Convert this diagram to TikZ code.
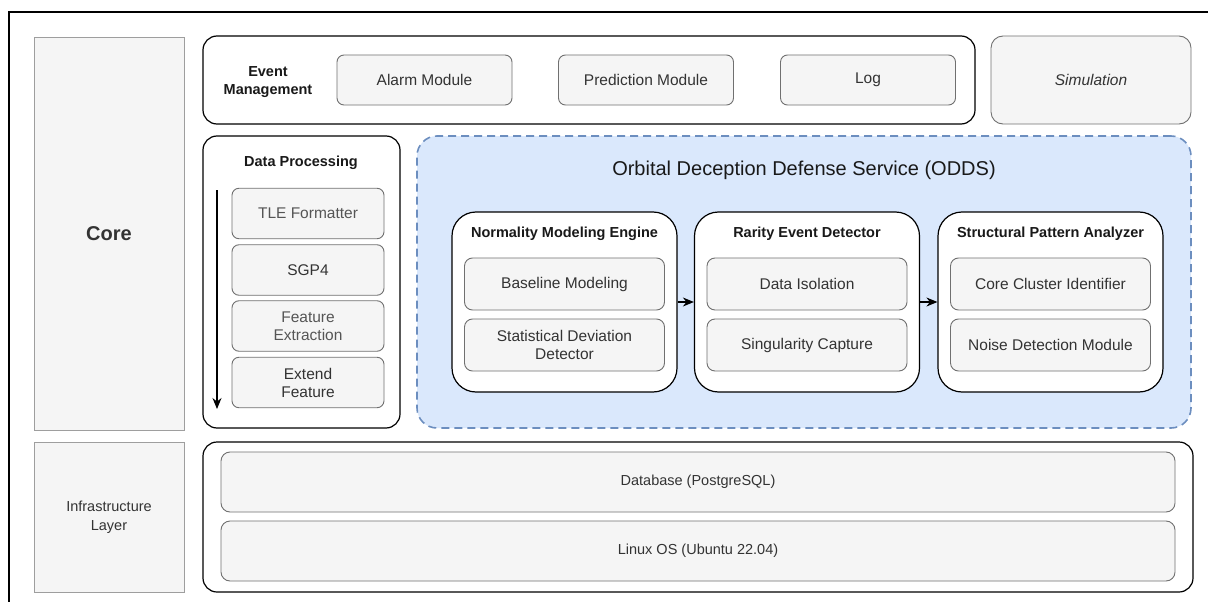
\documentclass[tikz,border=0pt]{standalone}
\usepackage{fontspec}
\setmainfont{Liberation Sans}
\usetikzlibrary{arrows.meta}

\definecolor{boxfill}{HTML}{F5F5F5}
\definecolor{boxline}{HTML}{707070}
\definecolor{layerline}{HTML}{9E9E9E}
\definecolor{textgray}{HTML}{333333}
\definecolor{lightgray}{HTML}{555555}
\definecolor{oddsfill}{HTML}{DAE8FC}
\definecolor{oddsline}{HTML}{6C8EBF}

\newcommand{\pxfont}[2]{\fontsize{#1}{#2}\selectfont}

\begin{document}
\begin{tikzpicture}[x=1pt, y=-1pt, font=\pxfont{15.5}{18},
  flow/.style={-{Stealth[length=11pt, width=9pt]}, line width=1.1pt},
  layerbox/.style={draw=layerline, fill=boxfill, line width=1pt, inner sep=0pt, text=textgray},
  groupbox/.style={draw=black, fill=white, line width=1.2pt, rounded corners=14pt, inner sep=0pt},
  modbox/.style={draw=boxline, fill=boxfill, line width=0.9pt, rounded corners=7pt, inner sep=0pt, align=center, text=textgray},
  headtext/.style={font=\bfseries\pxfont{14.5}{18}, align=center, text=black!90}]

\useasboundingbox (0,0) rectangle (1208,602);

% Outer frame
\draw[line width=1.2pt] (9,602) -- (9,12) -- (1208,12);

% Layers
\node[layerbox, minimum width=150, minimum height=392, font=\bfseries\pxfont{20}{24}] (core) at (109,234) {Core};
\node[layerbox, minimum width=150, minimum height=150, align=center, font=\pxfont{14.5}{19}] (infra) at (109,517) {Infrastructure\\Layer};

% Event management
\node[groupbox, minimum width=772, minimum height=88] (evt) at (589,80) {};
\node[headtext] (evtlbl) at (268,82) {Event\\Management};
\foreach \nm/\cx/\txt in {alarm/424.5/Alarm Module, pred/646/Prediction Module, log/868/Log} {
  \node[modbox, minimum width=175, minimum height=50] (\nm) at (\cx,80) {\txt};
}

% Simulation
\node[modbox, rounded corners=12pt, minimum width=200, minimum height=88] (sim) at (1091,80) {\itshape Simulation};

% Data processing
\node[groupbox, minimum width=197, minimum height=292] (dp) at (301.5,282) {};
\node[headtext] (dplbl) at (301,163) {Data Processing};
\foreach \nm/\cy/\tc/\txt in {tle/213.5/lightgray/TLE Formatter, sgp/270/textgray/SGP4, feat/326/lightgray/Feature\\Extraction, ext/382.5/textgray/Extend\\Feature} {
  \node[modbox, text=\tc, minimum width=152, minimum height=50.5] (\nm) at (308,\cy) {\txt};
}
\coordinate (flowtop) at (217,190);
\coordinate (flowend) at (217,409);
\draw[flow] (flowtop) -- (flowend);

% ODDS
\node[draw=oddsline, fill=oddsfill, dash pattern=on 8pt off 5pt, line width=1.6pt, rounded corners=20pt, minimum width=774, minimum height=292] (odds) at (804,282) {};
\node[font=\pxfont{20}{24}, text=black!90] (oddslbl) at (804,170) {Orbital Deception Defense Service (ODDS)};

\foreach \nm/\cx/\ttl/\subA/\subB in {norm/564.5/Normality Modeling Engine/Baseline Modeling/Statistical Deviation\\Detector,
    rare/807/Rarity Event Detector/Data Isolation/Singularity Capture,
    strc/1050.5/Structural Pattern Analyzer/Core Cluster Identifier/Noise Detection Module} {
  \node[groupbox, rounded corners=24pt, minimum width=225, minimum height=180] (\nm) at (\cx,302) {};
  \node[headtext] (\nm-t) at (\cx,234) {\ttl};
  \node[modbox, rounded corners=8pt, minimum width=200, minimum height=52] (\nm-a) at (\cx,284) {\subA};
  \node[modbox, rounded corners=8pt, minimum width=200, minimum height=52] (\nm-b) at (\cx,345) {\subB};
}
\draw[flow] (norm) -- (rare);
\draw[flow] (rare) -- (strc);

% Infrastructure
\node[groupbox, minimum width=990, minimum height=150] (infc) at (698,517) {};
\node[modbox, rounded corners=9pt, minimum width=954, minimum height=60, font=\pxfont{14.5}{18}] (db) at (698,482) {Database (PostgreSQL)};
\node[modbox, rounded corners=9pt, minimum width=954, minimum height=60, font=\pxfont{14.5}{18}] (os) at (698,551) {Linux OS (Ubuntu 22.04)};

\end{tikzpicture}
\end{document}
